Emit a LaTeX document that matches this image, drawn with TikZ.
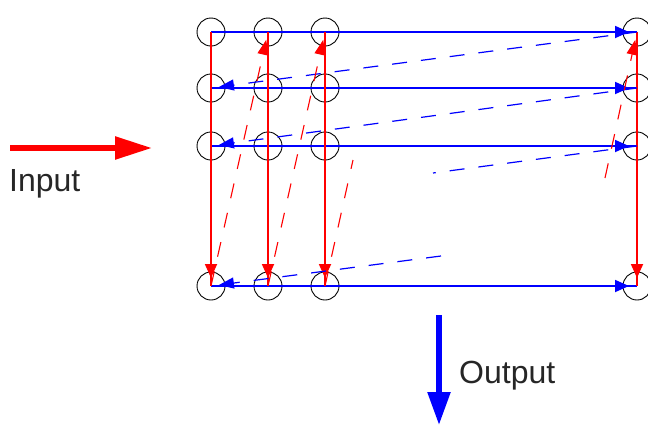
\documentclass[tikz,border=0pt]{standalone}
\usepackage{fontspec}
\setmainfont{Liberation Sans}
\usetikzlibrary{arrows.meta,calc}
\begin{document}
\begin{tikzpicture}[x=1pt,y=-1pt,
  cell/.style={circle,draw=black,line width=0.9pt,minimum size=28pt,inner sep=0pt},
  hsolid/.style={draw=blue,line width=1.8pt},
  vsolid/.style={draw=red,line width=1.8pt},
  tipsolid/.style={-{Triangle[length=14pt,width=12pt]},shorten >=8pt},
  hdash/.style={draw=blue,line width=1.2pt,dash pattern=on 15pt off 14pt},
  vdash/.style={draw=red,line width=1.1pt,dash pattern=on 15pt off 15pt},
  tipdash/.style={-{Triangle[length=15pt,width=11pt]},shorten >=8pt},
  txtlbl/.style={font=\fontsize{32}{38}\selectfont,text=black!85,inner sep=0pt,anchor=base west},
]
\useasboundingbox (0,0) rectangle (648,426);
% grid of cells
\foreach \c/\x in {1/211,2/268,3/325,4/637}
  \foreach \r/\y in {1/32,2/88,3/146,4/286}
    \node[cell] (n\r\c) at (\x,\y) {};
% blue solid rows
\foreach \r in {1,...,4} {
  \draw[hsolid] (n\r1.center) -- (n\r4.center);
  \draw[hsolid,tipsolid] (n\r1.center) -- (n\r4.center);
}
% red solid columns
\foreach \c in {1,...,4} {
  \draw[vsolid] (n1\c.center) -- (n4\c.center);
  \draw[vsolid,tipsolid] (n1\c.center) -- (n4\c.center);
}
% blue dashed flyback
\draw[hdash,tipdash] (n14.center) -- (n21.center);
\draw[hdash,tipdash] (n24.center) -- (n31.center);
\coordinate (bgapA) at ($(n34.center)+(-204,27)$);
\coordinate (bgapB) at ($(n41.center)+(230,-30)$);
\draw[hdash] (n34.center) -- (bgapA);
\draw[hdash,tipdash] (bgapB) -- (n41.center);
% red dashed flyback
\draw[vdash,tipdash] (n41.center) -- (n12.center);
\draw[vdash,tipdash] (n42.center) -- (n13.center);
\coordinate (rgapA) at ($(n43.center)+(28,-126)$);
\coordinate (rgapB) at ($(n14.center)+(-32,146)$);
\draw[vdash] (n43.center) -- (rgapA);
\draw[vdash,tipdash] (rgapB) -- (n14.center);
% input
\coordinate (inA) at (10,148);
\coordinate (inB) at (152,148);
\draw[red,line width=5.5pt,-{Triangle[length=37pt,width=22pt]}] (inA) -- (inB);
\node[txtlbl] (inlbl) at (9,191) {Input};
% output
\coordinate (outA) at (439,315);
\coordinate (outB) at (439,425);
\draw[blue,line width=5.5pt,-{Triangle[length=33pt,width=22pt]}] (outA) -- (outB);
\node[txtlbl] (outlbl) at (459,383) {Output};
\end{tikzpicture}
\end{document}
